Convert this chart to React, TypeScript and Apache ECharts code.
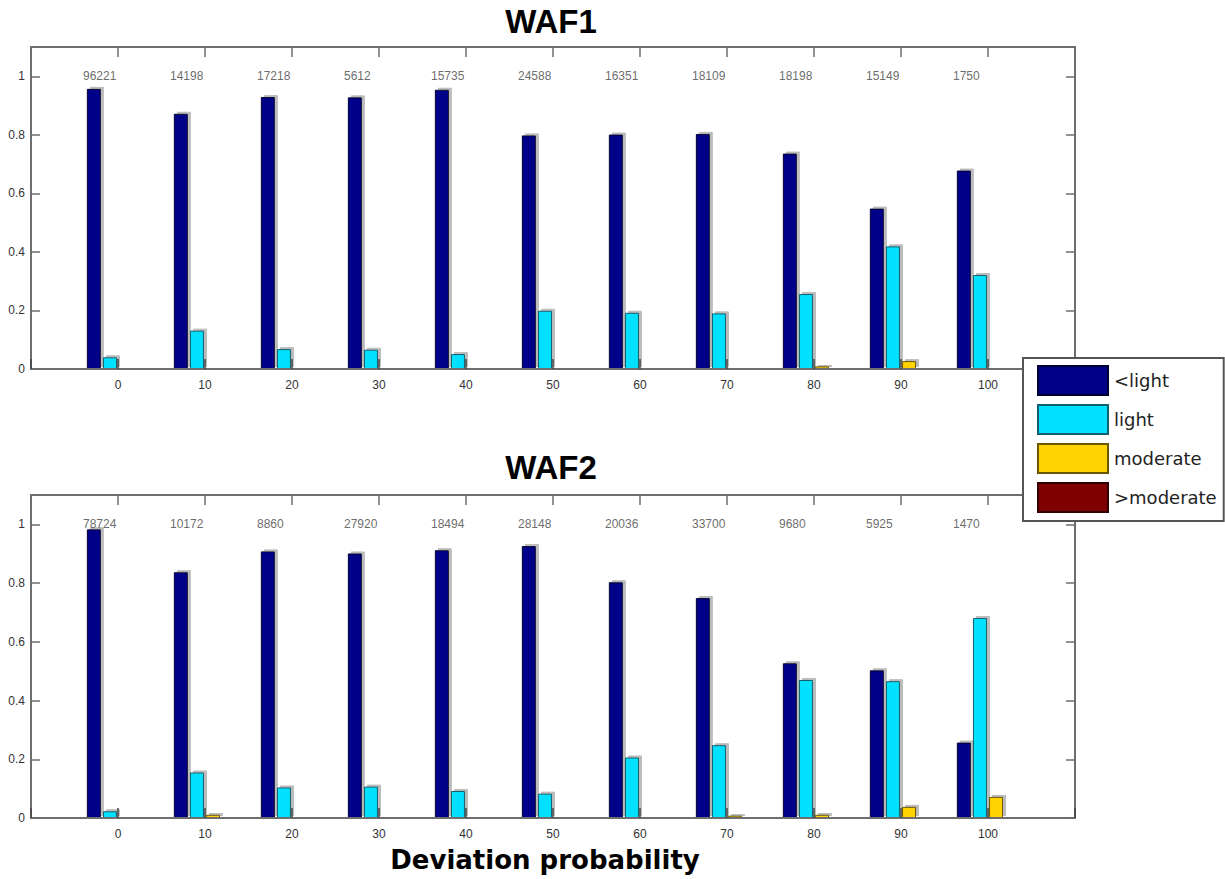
import React, { useEffect, useRef } from "react";
import * as echarts from "echarts";

const xCategories = [0, 10, 20, 30, 40, 50, 60, 70, 80, 90, 100];
const xTickLabels = ["0", "10", "20", "30", "40", "50", "60", "70", "80", "90", "100"];
const yTickLabels = ["0", "0.2", "0.4", "0.6", "0.8", "1"];
const seriesNames = ["<light", "light", "moderate", ">moderate"];

const waf1LessLight = [0.957, 0.872, 0.929, 0.928, 0.954, 0.798, 0.801, 0.803, 0.736, 0.548, 0.678];
const waf1Light = [0.04, 0.131, 0.068, 0.066, 0.051, 0.199, 0.192, 0.19, 0.256, 0.419, 0.321];
const waf1Moderate = [0.003, 0, 0, 0, 0, 0, 0, 0, 0.009, 0.027, 0];
const waf1MoreModerate = [0, 0, 0, 0, 0, 0, 0, 0, 0, 0, 0];
const waf1Counts = [96221, 14198, 17218, 5612, 15735, 24588, 16351, 18109, 18198, 15149, 1750];

const waf2LessLight = [0.983, 0.837, 0.908, 0.901, 0.912, 0.926, 0.803, 0.749, 0.527, 0.503, 0.257];
const waf2Light = [0.023, 0.155, 0.104, 0.107, 0.092, 0.083, 0.206, 0.248, 0.47, 0.466, 0.681];
const waf2Moderate = [0, 0.011, 0, 0, 0, 0, 0, 0.008, 0.011, 0.038, 0.072];
const waf2MoreModerate = [0, 0, 0, 0, 0, 0, 0, 0, 0, 0, 0];
const waf2Counts = [78724, 10172, 8860, 27920, 18494, 28148, 20036, 33700, 9680, 5925, 1470];

const colors = ["#000088", "#00E1FF", "#FFD200", "#7F0000"];
const borders = ["#000030", "#10606e", "#6a5600", "#300000"];

export default function App() {
  const ref = useRef<HTMLDivElement>(null);
  useEffect(() => {
    if (!ref.current) return;
    const chart = echarts.init(ref.current, null, { renderer: "svg" });
    const axisColor = "#6e6e6e";
    const labelFont = { fontFamily: "Liberation Sans, Arial", fontSize: 12, color: "#333" };

    const grids = [
      { left: 31, right: 150, top: 47, height: 322 },
      { left: 31, right: 150, top: 495, height: 323 },
    ];

    const xAxes: any[] = [];
    const yAxes: any[] = [];
    [0, 1].forEach((g) => {
      xAxes.push({
        type: "value", gridIndex: g, position: "bottom", min: -10, max: 110, interval: 10,
        splitLine: { show: false },
        axisLine: { show: true, onZero: false, lineStyle: { color: axisColor, width: 2 } },
        axisTick: { show: true, inside: true, length: 10, lineStyle: { color: "#444", width: 1.5 } },
        axisLabel: {
          ...labelFont, margin: 10,
          formatter: (v: number) => {
            const i = xCategories.indexOf(Math.round(v));
            return i >= 0 ? xTickLabels[i] : "";
          },
        },
        z: 5,
      });
      xAxes.push({
        type: "value", gridIndex: g, position: "top", min: -10, max: 110, interval: 10,
        splitLine: { show: false },
        axisLine: { show: true, onZero: false, lineStyle: { color: axisColor, width: 2 } },
        axisTick: { show: true, inside: true, length: 10, lineStyle: { color: axisColor, width: 1.5 } },
        axisLabel: { show: false },
        z: 5,
      });
      yAxes.push({
        type: "value", gridIndex: g, position: "left", min: 0, max: 1.1, interval: 0.2,
        splitLine: { show: false },
        axisLine: { show: true, onZero: false, lineStyle: { color: axisColor, width: 2 } },
        axisTick: { show: true, inside: true, length: 9, lineStyle: { color: axisColor, width: 1.5 } },
        axisLabel: {
          ...labelFont, margin: 6,
          formatter: (v: number) => {
            const i = Math.round(v / 0.2);
            return v <= 1.0001 && Math.abs(v - i * 0.2) < 1e-6 ? yTickLabels[i] : "";
          },
        },
        z: 5,
      });
      yAxes.push({
        type: "value", gridIndex: g, position: "right", min: 0, max: 1.1, interval: 0.2,
        splitLine: { show: false },
        axisLine: { show: true, onZero: false, lineStyle: { color: axisColor, width: 2 } },
        axisTick: { show: true, inside: true, length: 9, lineStyle: { color: axisColor, width: 1.5 } },
        axisLabel: { show: false },
        z: 5,
      });
    });

    const panels = [
      { values: [waf1LessLight, waf1Light, waf1Moderate, waf1MoreModerate], counts: waf1Counts },
      { values: [waf2LessLight, waf2Light, waf2Moderate, waf2MoreModerate], counts: waf2Counts },
    ];

    const series: any[] = [];
    panels.forEach((p, g) => {
      p.values.forEach((vals, s) => {
        series.push({
          type: "bar",
          name: seriesNames[s],
          xAxisIndex: g * 2,
          yAxisIndex: g * 2,
          barWidth: 14,
          barGap: "15%",
          data: xCategories.map((x, i) => [x, vals[i]]),
          itemStyle: {
            color: colors[s],
            borderColor: borders[s],
            borderWidth: 1,
            shadowColor: "rgba(120,120,120,0.5)",
            shadowOffsetX: 3,
            shadowOffsetY: -2,
            shadowBlur: 0,
          },
          z: 2,
        });
      });
      series.push({
        type: "scatter",
        name: "counts" + g,
        xAxisIndex: g * 2,
        yAxisIndex: g * 2,
        symbolSize: 1,
        itemStyle: { color: "transparent" },
        data: xCategories.map((x, i) => [x, 1, p.counts[i]]),
        label: {
          show: true,
          position: "inside",
          align: "left",
          verticalAlign: "middle",
          offset: [-35, 0],
          formatter: (params: any) => String(params.data[2]),
          ...labelFont,
          color: "#444",
        },
        z: 6,
      });
    });

    chart.setOption({
      animation: false,
      backgroundColor: "#ffffff",
      grid: grids,
      xAxis: xAxes,
      yAxis: yAxes,
      legend: {
        data: seriesNames,
        orient: "vertical",
        left: 1023,
        top: 358,
        itemWidth: 70,
        itemHeight: 29,
        itemGap: 8,
        padding: [7, 7, 8, 14],
        backgroundColor: "#ffffff",
        borderColor: "#555",
        borderWidth: 2,
        borderRadius: 0,
        icon: "rect",
        selectedMode: false,
        itemStyle: { shadowColor: "transparent", shadowOffsetX: 0, shadowOffsetY: 0 },
        textStyle: { fontFamily: "DejaVu Sans", fontSize: 18, color: "#222", padding: [0, 0, 0, 1] },
        z: 10,
      },
      graphic: [
        {
          type: "text", x: 551, y: 21, z: 10,
          style: { text: "WAF1", align: "center", verticalAlign: "middle", fontFamily: "Liberation Sans, Arial", fontWeight: "bold", fontSize: 33, fill: "#000" },
        },
        {
          type: "text", x: 551, y: 467, z: 10,
          style: { text: "WAF2", align: "center", verticalAlign: "middle", fontFamily: "Liberation Sans, Arial", fontWeight: "bold", fontSize: 33, fill: "#000" },
        },
        {
          type: "text", x: 545, y: 860, z: 10,
          style: { text: "Deviation probability", align: "center", verticalAlign: "middle", fontFamily: "DejaVu Sans", fontWeight: "bold", fontSize: 26, fill: "#000" },
        },
      ],
      series,
    });
    return () => chart.dispose();
  }, []);
  return <div ref={ref} style={{ position: "fixed", left: 0, top: 0, width: 1225, height: 879 }} />;
}
